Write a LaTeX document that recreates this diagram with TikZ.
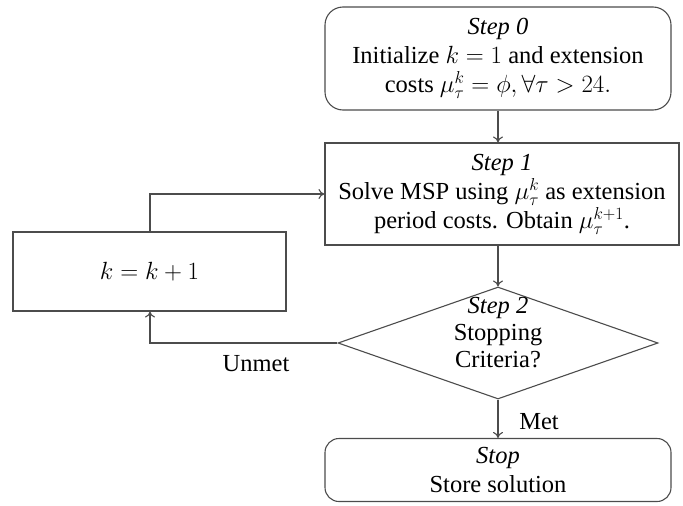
\documentclass[tikz,border=0pt]{standalone}
\usepackage{fontspec}
\setmainfont{Liberation Serif}
\usetikzlibrary{shapes.geometric,arrows.meta}
\begin{document}
\begin{tikzpicture}[x=1pt,y=-1pt,
  line/.style={draw=black!70, line width=1.1pt},
  arr/.style={line, -{To[length=6pt,width=10pt]}},
  box/.style={line, rectangle, inner sep=0pt, align=center, font=\fontsize{24.5}{29}\selectfont},
  rbox/.style={box, rounded corners=18pt},
  lbl/.style={font=\fontsize{24.5}{29}\selectfont, inner sep=0pt}]
\useasboundingbox (0,0) rectangle (683,506);
\node[rbox, minimum width=346pt, minimum height=103pt] (s0) at (498,58.5)
  {\textit{Step 0}\\Initialize $k=1$ and extension\\costs $\mu_\tau^k=\phi,\forall\tau>24.$};
\node[box, minimum width=354pt, minimum height=102pt] (s1) at (502,194)
  {\textit{Step 1}\\Solve MSP using $\mu_\tau^k$ as extension\\period costs. Obtain $\mu_\tau^{k+1}$.};
\node[box, minimum width=273pt, minimum height=79pt] (kb) at (149.5,271.5) {$k=k+1$};
\node[line, diamond, inner sep=0pt, minimum width=320pt, minimum height=112pt] (d) at (498,343) {};
\node[lbl, align=center, font=\fontsize{24.5}{27}\selectfont] (dt) at (498,333) {\textit{Step 2}\\Stopping\\Criteria?};
\node[rbox, minimum width=346pt, minimum height=63pt, rounded corners=14pt] (st) at (498,470)
  {\textit{Stop}\\Store solution};
\coordinate (c1) at (150,194);
\coordinate (c2) at (150,343);
\draw[arr] (s0.south) -- (s0.south |- s1.north);
\draw[arr] (kb.north -| c1) -- (c1) -- (c1 -| s1.west);
\draw[arr] (d.south) -- (d.south |- st.north);
\draw[arr] (d.west) -- (c2) -- (c2 |- kb.south);
\draw[arr] (s1.south -| d.north) -- (d.north);
\node[lbl] (unmet) at (256,364) {Unmet};
\node[lbl] (met) at (539,422) {Met};
\end{tikzpicture}
\end{document}
